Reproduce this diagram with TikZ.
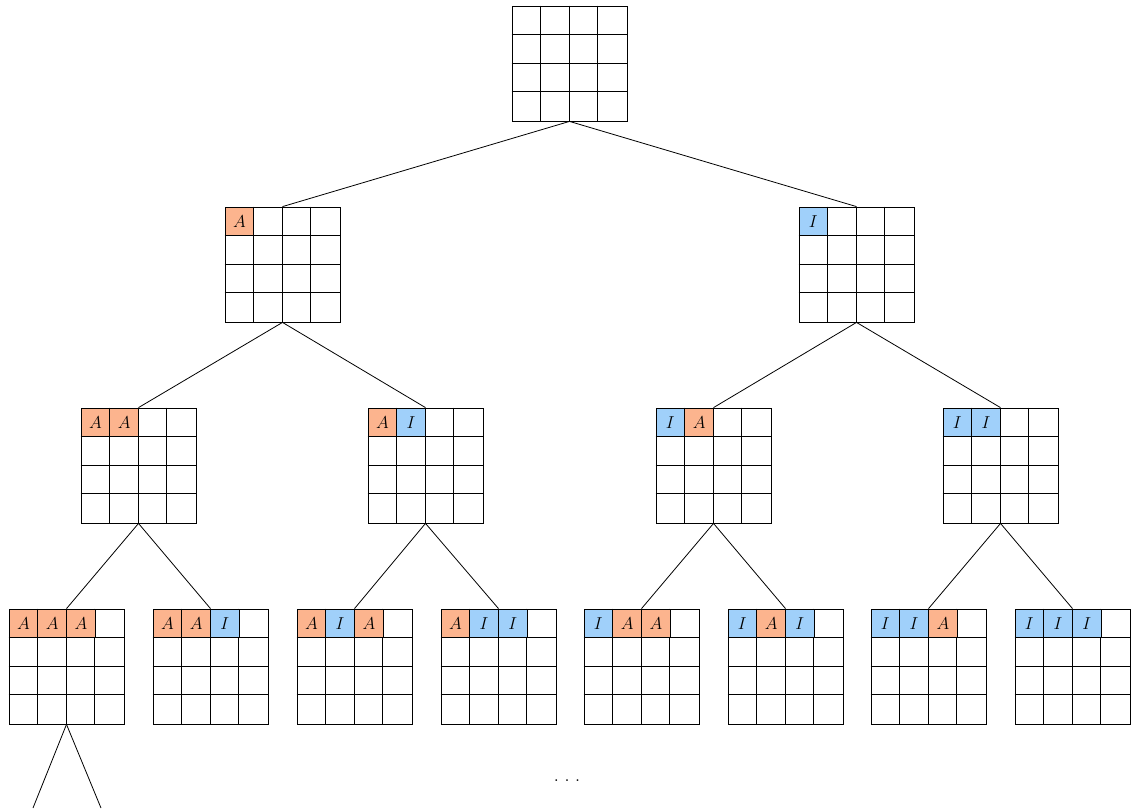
\documentclass[tikz,border=0pt]{standalone}
\usetikzlibrary{calc}
\definecolor{corange}{RGB}{252,180,142}
\definecolor{cblue}{RGB}{160,208,250}
\tikzset{
  x=1pt, y=1pt,
  board/.style={draw=black, line width=0.8pt, minimum size=115pt, inner sep=0pt},
  cellbox/.style={draw=black, line width=0.8pt, minimum size=28.75pt, inner sep=0pt, font=\fontsize{17}{20}\selectfont},
  gridline/.style={draw=black, line width=0.8pt},
  edge/.style={draw=black, line width=0.8pt},
}
\newcommand{\gridlines}[1]{%
  \foreach \i in {1,2,3} {
    \draw[gridline] ($(#1.north west)+(28.75*\i,0)$) -- ($(#1.south west)+(28.75*\i,0)$);
    \draw[gridline] ($(#1.north west)+(0,-28.75*\i)$) -- ($(#1.north east)+(0,-28.75*\i)$);
  }}
\newcommand{\emptyboard}[3]{%
  \node[board] (#1) at (#2+57.5,-#3-57.5) {};
  \gridlines{#1}}
\newcommand{\board}[4]{%
  \node[board] (#1) at (#2+57.5,-#3-57.5) {};
  \gridlines{#1}
  \foreach \c/\l/\col in {#4} {
    \node[cellbox, fill=\col] (#1c\c) at (#2+14.375+28.75*\c,-#3-14.375) {$\l$};
  }}
\begin{document}
\begin{tikzpicture}
\useasboundingbox (0,0) rectangle (1131,-809);
% root
\emptyboard{r}{512}{6}
% level 1
\board{a}{225}{207}{0/A/corange}
\board{b}{799}{207}{0/I/cblue}
% level 2
\board{aa}{81}{408}{0/A/corange,1/A/corange}
\board{ab}{368}{408}{0/A/corange,1/I/cblue}
\board{ba}{656}{408}{0/I/cblue,1/A/corange}
\board{bb}{943}{408}{0/I/cblue,1/I/cblue}
% level 3
\board{aaa}{9}{609}{0/A/corange,1/A/corange,2/A/corange}
\board{aab}{153}{609}{0/A/corange,1/A/corange,2/I/cblue}
\board{aba}{297}{609}{0/A/corange,1/I/cblue,2/A/corange}
\board{abb}{441}{609}{0/A/corange,1/I/cblue,2/I/cblue}
\board{baa}{584}{609}{0/I/cblue,1/A/corange,2/A/corange}
\board{bab}{728}{609}{0/I/cblue,1/A/corange,2/I/cblue}
\board{bba}{871}{609}{0/I/cblue,1/I/cblue,2/A/corange}
\board{bbb}{1015}{609}{0/I/cblue,1/I/cblue,2/I/cblue}
% edges
\draw[edge] (r.south) -- (a.north);
\draw[edge] (r.south) -- (b.north);
\draw[edge] (a.south) -- (aa.north);
\draw[edge] (a.south) -- (ab.north);
\draw[edge] (b.south) -- (ba.north);
\draw[edge] (b.south) -- (bb.north);
\draw[edge] (aa.south) -- (aaa.north);
\draw[edge] (aa.south) -- (aab.north);
\draw[edge] (ab.south) -- (aba.north);
\draw[edge] (ab.south) -- (abb.north);
\draw[edge] (ba.south) -- (baa.north);
\draw[edge] (ba.south) -- (bab.north);
\draw[edge] (bb.south) -- (bba.north);
\draw[edge] (bb.south) -- (bbb.north);
\coordinate (e1) at (33,-808);
\coordinate (e2) at (101,-808);
\draw[edge] (aaa.south) -- (e1);
\draw[edge] (aaa.south) -- (e2);
\node[font=\fontsize{22}{26}\selectfont, inner sep=0pt, anchor=base] (dots) at (567,-781) {.\kern5.2pt.\kern5.2pt.};
\end{tikzpicture}
\end{document}
